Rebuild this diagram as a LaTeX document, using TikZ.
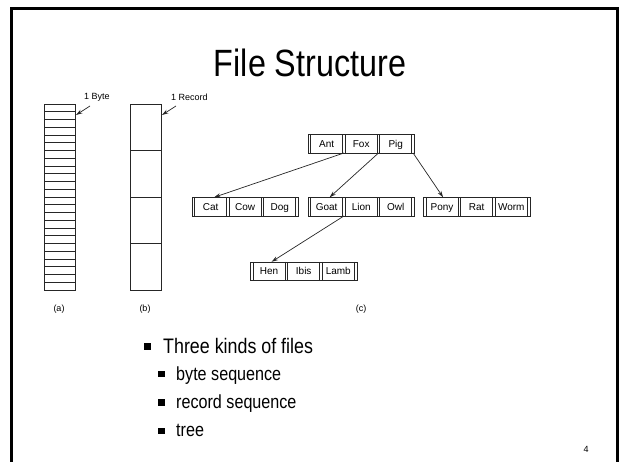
\documentclass[tikz,border=0pt]{standalone}
\usepackage{fontspec}
\setmainfont{Liberation Sans}
\newfontfamily\narrowfont[FakeStretch=0.85]{Liberation Sans}
\usetikzlibrary{arrows.meta}
\tikzset{
  frameline/.style={line width=3pt, black},
  figline/.style={line width=0.7pt, black!85},
  keycell/.style={minimum width=32pt, minimum height=18.5pt, inner sep=0pt, text height=7.2pt, text depth=0pt, font=\fontsize{10}{12}\selectfont},
  smalllabel/.style={inner sep=0pt, font=\fontsize{9}{11}\selectfont},
  figarrow/.style={line width=0.7pt, black!85, -{Stealth[length=6.5pt,width=4pt]}},
  titletext/.style={inner sep=0pt, font=\narrowfont\fontsize{38}{44}\selectfont},
  mainitem/.style={inner sep=0pt, anchor=base west, font=\narrowfont\fontsize{21}{25}\selectfont},
  subitem/.style={inner sep=0pt, anchor=base west, font=\narrowfont\fontsize{19}{23}\selectfont},
  bulletsq/.style={fill=black, inner sep=0pt},
}
\newcommand\drawkeynode[6]{%
  \draw[figline] (#2,#3) rectangle ({#2+106.4},{#3+18.5});
  \foreach \dx in {2.6,34.6,37.2,69.2,71.8,103.8}
    \draw[figline] ({#2+\dx},#3) -- ({#2+\dx},{#3+18.5});
  \node[keycell] (#1-1) at ({#2+18.6},{#3+9.25}) {#4};
  \node[keycell] (#1-2) at ({#2+53.2},{#3+9.25}) {#5};
  \node[keycell] (#1-3) at ({#2+87.8},{#3+9.25}) {#6};
  \coordinate (#1-s1) at ({#2+35.9},{#3+18.5});
  \coordinate (#1-s2) at ({#2+70.5},{#3+18.5});
  \coordinate (#1-s3) at ({#2+105.1},{#3+18.5});
}
\begin{document}
\begin{tikzpicture}[x=1pt,y=-1pt]
\useasboundingbox (0,0) rectangle (621,462);
% slide frame
\draw[frameline] (11,462) -- (11,9) -- (617,9) -- (617,462);
% title
\node[titletext, anchor=base] (title) at (310,77) {File Structure};
% (a) byte sequence
\draw[figline] (44.5,104) rectangle (75,290);
\foreach \i in {1,...,23} \draw[figline] (44.5,{104+\i*7.75}) -- (75,{104+\i*7.75});
\coordinate (bytetip) at (76,115);
\node[smalllabel, anchor=west] (bytelbl) at (84,97) {1 Byte};
\draw[figarrow] (90,106) -- (bytetip);
\node[smalllabel] (la) at (59,309) {(a)};
% (b) record sequence
\draw[figline] (130.5,104) rectangle (161,290);
\foreach \yy in {150.5,197,243.5} \draw[figline] (130.5,\yy) -- (161,\yy);
\coordinate (rectip) at (162,115);
\node[smalllabel, anchor=west] (reclbl) at (171,97) {1 Record};
\draw[figarrow] (176,106) -- (rectip);
\node[smalllabel] (lb) at (145,309) {(b)};
% (c) tree
\drawkeynode{top}{308}{134.5}{Ant}{Fox}{Pig}
\drawkeynode{cat}{192}{197.5}{Cat}{Cow}{Dog}
\drawkeynode{goat}{308}{197.5}{Goat}{Lion}{Owl}
\drawkeynode{pony}{423.5}{197.5}{Pony}{Rat}{Worm}
\drawkeynode{hen}{250.5}{262}{Hen}{Ibis}{Lamb}
\draw[figarrow] (top-s1) -- ([xshift=3.5pt]cat-1.north);
\draw[figarrow] (top-s2) -- ([xshift=3pt]goat-1.north);
\draw[figarrow] (top-s3) -- ([xshift=1pt]pony-1.north);
\draw[figarrow] (goat-s1) -- ([xshift=2.5pt]hen-1.north);
\node[smalllabel] (lc) at (361,309) {(c)};
% bullets
\node[bulletsq, minimum size=7pt] (bm) at (147.5,346.5) {};
\node[mainitem] (t0) at (163,353) {Three kinds of files};
\node[bulletsq, minimum size=6.5pt] (b1) at (161.7,374) {};
\node[subitem] (t1) at (176,380) {byte sequence};
\node[bulletsq, minimum size=6.5pt] (b2) at (161.7,402.3) {};
\node[subitem] (t2) at (176,408.3) {record sequence};
\node[bulletsq, minimum size=6.5pt] (b3) at (161.7,431) {};
\node[subitem] (t3) at (176,436.7) {tree};
% page number
\node[smalllabel] (pg) at (586,449) {4};
\end{tikzpicture}
\end{document}
